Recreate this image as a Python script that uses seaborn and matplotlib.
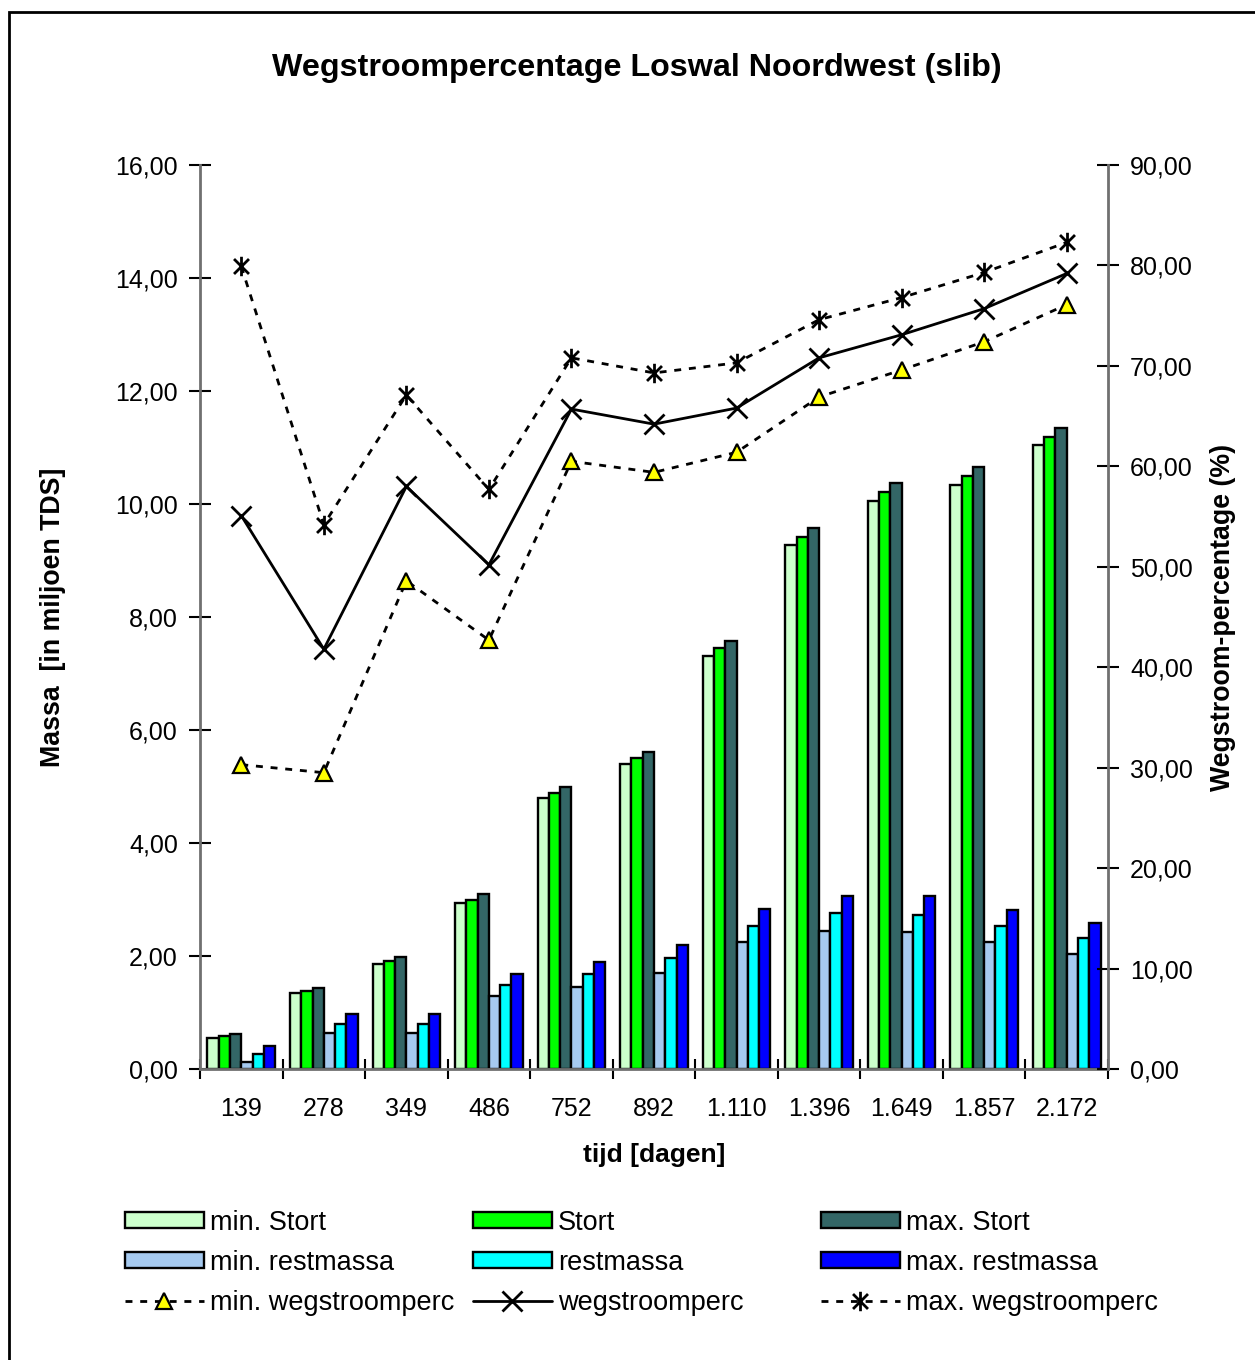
import pandas as pd
import matplotlib
matplotlib.use('Agg')
import matplotlib.pyplot as plt
import seaborn as sns
from matplotlib.ticker import FuncFormatter, MultipleLocator, FixedLocator
from matplotlib.patches import Rectangle
from matplotlib.path import Path

# Data
dagen = ['139', '278', '349', '486', '752', '892', '1.110', '1.396', '1.649', '1.857', '2.172']

min_stort = [0.55, 1.34, 1.86, 2.93, 4.79, 5.40, 7.31, 9.27, 10.06, 10.34, 11.04]
stort = [0.58, 1.38, 1.92, 3.00, 4.89, 5.50, 7.45, 9.42, 10.22, 10.49, 11.18]
max_stort = [0.62, 1.44, 1.98, 3.09, 4.99, 5.61, 7.58, 9.58, 10.37, 10.65, 11.35]
min_rest = [0.12, 0.64, 0.64, 1.29, 1.45, 1.70, 2.24, 2.44, 2.43, 2.25, 2.04]
rest = [0.27, 0.80, 0.80, 1.49, 1.68, 1.96, 2.53, 2.76, 2.73, 2.53, 2.32]
max_rest = [0.41, 0.97, 0.97, 1.69, 1.89, 2.19, 2.83, 3.06, 3.06, 2.82, 2.59]

min_weg = [30.3, 29.5, 48.6, 42.7, 60.5, 59.4, 61.4, 66.9, 69.6, 72.4, 76.1]
weg = [55.1, 41.8, 58.0, 50.2, 65.7, 64.2, 65.8, 70.8, 73.1, 75.7, 79.2]
max_weg = [79.9, 54.2, 67.1, 57.7, 70.8, 69.3, 70.3, 74.6, 76.8, 79.3, 82.3]

bar_series = ['min. Stort', 'Stort', 'max. Stort', 'min. restmassa', 'restmassa', 'max. restmassa']
bar_colors = ['#CCFFCC', '#00FF00', '#336666', '#A6CAF0', '#00FFFF', '#0000FF']

# long table for seaborn
df = pd.DataFrame({
    'tijd': dagen * 6,
    'massa': min_stort + stort + max_stort + min_rest + rest + max_rest,
    'serie': [s for s in bar_series for _ in dagen],
})

sns.set_style('white')
plt.rcParams['font.family'] = ['Liberation Sans', 'DejaVu Sans']
plt.rcParams['text.color'] = 'black'
plt.rcParams['axes.labelcolor'] = 'black'
plt.rcParams['xtick.color'] = 'black'
plt.rcParams['ytick.color'] = 'black'

# Excel style asterisk: an X with a vertical stroke
star = Path([(-1, -1), (1, 1), (-1, 1), (1, -1), (0, -1.3), (0, 1.3)],
            [Path.MOVETO, Path.LINETO, Path.MOVETO, Path.LINETO, Path.MOVETO, Path.LINETO])

fig = plt.figure(figsize=(12.55, 13.6), dpi=100)
ax = fig.add_axes([200 / 1255, 1 - 1069 / 1360, 908 / 1255, 904 / 1360])

sns.barplot(data=df, x='tijd', y='massa', hue='serie', hue_order=bar_series,
            palette=bar_colors, width=0.82, edgecolor='black', linewidth=1.7,
            saturation=1, ax=ax)

ax2 = ax.twinx()
line_kw = dict(linewidth=2, ax=ax2)
sns.lineplot(x=dagen, y=min_weg, color='black', linestyle=(0, (2.5, 2.8)),
             marker='^', markersize=12, markerfacecolor='#FFFF00',
             markeredgecolor='black', markeredgewidth=1.6, label='min. wegstroomperc', **line_kw)
sns.lineplot(x=dagen, y=weg, color='black', linestyle='-',
             marker='x', markersize=14, markeredgecolor='black',
             markeredgewidth=2, label='wegstroomperc', **line_kw)
sns.lineplot(x=dagen, y=max_weg, color='black', linestyle=(0, (2.5, 2.8)),
             marker=star, markersize=14, markeredgecolor='black',
             markeredgewidth=2, label='max. wegstroomperc', **line_kw)

fmt = FuncFormatter(lambda v, p: f'{v:.2f}'.replace('.', ','))

ax.set_ylim(0, 16)
ax.yaxis.set_major_locator(MultipleLocator(2))
ax.yaxis.set_major_formatter(fmt)
ax2.set_ylim(0, 90)
ax2.yaxis.set_major_locator(MultipleLocator(10))
ax2.yaxis.set_major_formatter(fmt)
ax.set_xlim(-0.5, len(dagen) - 0.5)

ax.set_xticks(range(len(dagen)))
ax.set_xticklabels(dagen)
ax.xaxis.set_minor_locator(FixedLocator([i - 0.5 for i in range(len(dagen) + 1)]))

for a in (ax, ax2):
    for s in a.spines.values():
        s.set_visible(False)
    a.grid(False)
ax.spines['left'].set_visible(True)
ax.spines['bottom'].set_visible(True)
ax2.spines['right'].set_visible(True)
for s in (ax.spines['left'], ax.spines['bottom'], ax2.spines['right']):
    s.set_color('#707070')
    s.set_linewidth(2)

ax.tick_params(axis='y', direction='inout', length=16, width=1.5, color='black',
               labelsize=18, pad=8, left=True)
ax2.tick_params(axis='y', direction='inout', length=16, width=1.5, color='black',
                labelsize=18, pad=8, right=True)
ax.tick_params(axis='x', which='major', length=0, labelsize=18, pad=20)
ax.tick_params(axis='x', which='minor', direction='inout', length=14, width=1.5,
               color='black', bottom=True)

ax.set_xlabel('tijd [dagen]', fontsize=19, fontweight='bold', labelpad=16)
ax.set_ylabel('Massa  [in miljoen TDS]', fontsize=19.3, fontweight='bold', labelpad=35)
ax2.set_ylabel('Wegstroom-percentage (%)', fontsize=19.3, fontweight='bold', labelpad=12)

fig.text(637 / 1255, 1 - 68 / 1360, 'Wegstroompercentage Loswal Noordwest (slib)',
         ha='center', va='center', fontsize=23.2, fontweight='bold')

# legend: collect handles, three columns placed separately
bh, bl = ax.get_legend_handles_labels()
lh, ll = ax2.get_legend_handles_labels()
ax.get_legend().remove()
ax2.get_legend().remove()
handles = dict(zip(bl + ll, bh + lh))
columns = [['min. Stort', 'min. restmassa', 'min. wegstroomperc'],
           ['Stort', 'restmassa', 'wegstroomperc'],
           ['max. Stort', 'max. restmassa', 'max. wegstroomperc']]
col_x = [111, 459, 807]
for cx, col in zip(col_x, columns):
    fig.legend([handles[c] for c in col], col, loc='upper left',
               bbox_to_anchor=(cx / 1255, 1 - 1196 / 1360), frameon=False,
               fontsize=19.5, handlelength=2.95, handleheight=0.55,
               handletextpad=0.2, labelspacing=0.52, borderpad=0, numpoints=1)

# outer border (only left and top edges visible in the reference)
fig.patches.append(Rectangle((9 / 1255, -0.1), 1.2, 1 - 12 / 1360 + 0.1,
                             transform=fig.transFigure, fill=False,
                             edgecolor='black', linewidth=2))

fig.savefig('out.png', dpi=100)
